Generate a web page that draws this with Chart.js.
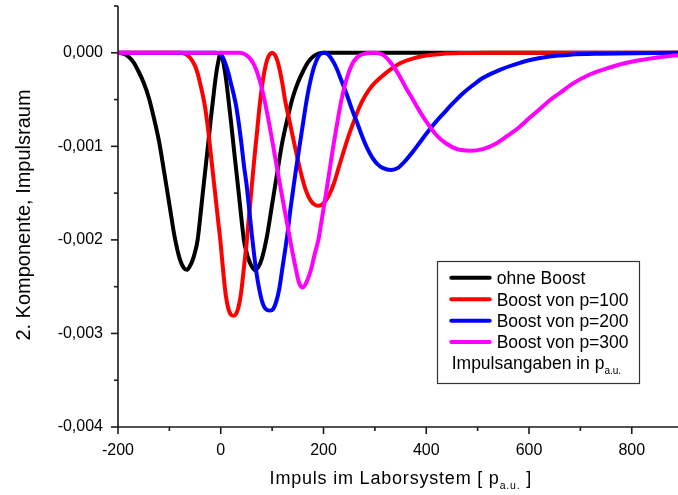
<!DOCTYPE html>
<html>
<head>
<meta charset="utf-8">
<script src="https://cdn.jsdelivr.net/npm/chart.js@4.4.1/dist/chart.umd.min.js"></script>
<style>
  html, body { margin:0; padding:0; background:#fff; }
  canvas { display:block; }
</style>
</head>
<body>
<canvas id="chart" width="678" height="495"></canvas>
<script>
// Impuls (x) und 2. Komponente (y) je Kurve
const xOhne = [-200,-190,-180,-170,-160,-150,-140,-130,-120,-110,-100,-90,-80,-72,-66,-60,-55,-50,-45,-40,-35,-30,-25,-20,-15,-10,-5,0,
               5,10,15,20,25,30,35,40,45,50,55,60,66,72,80,90,100,110,120,130,140,150,160,170,180,190,200,890];
const yOhne = [0,-0.00001,-0.00004,-0.0001,-0.0002,-0.00032,-0.00048,-0.0007,-0.00095,-0.00128,-0.00162,-0.00196,-0.0022,-0.0023,-0.00232,-0.00228,-0.00222,-0.00213,-0.002,-0.00176,-0.0015,-0.00125,-0.001,-0.00074,-0.0005,-0.00027,-0.0001,0,
               -0.0001,-0.00027,-0.0005,-0.00074,-0.001,-0.00125,-0.0015,-0.00176,-0.002,-0.00213,-0.00222,-0.00228,-0.00232,-0.0023,-0.0022,-0.00196,-0.00162,-0.00128,-0.00095,-0.0007,-0.00048,-0.00032,-0.0002,-0.0001,-0.00004,-0.00001,0,0];

const x100 = [-200,-80,-70,-60,-50,-45,-40,-35,-30,-25,-20,-15,-10,-5,0,5,10,15,20,25,30,35,40,45,50,55,60,65,70,75,80,85,90,95,100,
              105,110,115,120,125,135,145,155,165,175,185,191,200,210,220,230,240,250,260,270,280,295,310,330,350,375,400,430,470,520,890];
const y100 = [0,0,-0.00001,-0.00005,-0.00014,-0.00022,-0.00033,-0.00045,-0.0006,-0.0008,-0.00105,-0.0013,-0.00155,-0.0018,-0.00205,-0.00235,-0.0026,-0.00274,-0.0028,-0.00281,-0.00279,-0.00271,-0.00255,-0.0023,-0.00205,-0.00175,-0.00145,-0.00115,-0.00088,-0.0006,-0.00037,-0.0002,-0.00008,-0.00002,0,
              -0.00002,-0.00008,-0.00019,-0.00033,-0.0005,-0.00076,-0.00102,-0.00126,-0.00146,-0.00158,-0.00163,-0.001635,-0.00161,-0.00153,-0.0014,-0.00122,-0.00104,-0.00087,-0.00072,-0.00058,-0.00047,-0.00035,-0.00027,-0.00018,-0.00011,-0.00006,-0.00003,-0.000012,-0.000003,0,0];

const x200 = [-200,-10,0,5,10,15,20,25,30,35,40,45,50,55,60,65,70,75,80,85,90,96,102,108,114,120,125,130,135,140,145,150,155,160,165,170,175,180,185,190,195,201,
              207,215,225,235,245,255,265,275,285,295,305,315,332,345,360,375,390,405,420,435,450,470,490,510,540,570,600,640,680,740,890];
const y200 = [0,0,-0.00002,-0.00006,-0.00013,-0.00022,-0.00033,-0.00044,-0.00057,-0.00075,-0.00096,-0.0012,-0.0014,-0.00165,-0.00192,-0.00216,-0.00237,-0.00253,-0.00265,-0.00272,-0.00275,-0.002756,-0.00274,-0.00266,-0.00252,-0.0023,-0.00212,-0.00193,-0.0017,-0.0015,-0.0013,-0.00112,-0.00094,-0.00076,-0.00058,-0.00042,-0.00029,-0.00018,-0.0001,-0.00004,-0.00001,0,
              -0.00001,-0.00006,-0.00016,-0.0003,-0.00044,-0.0006,-0.00074,-0.00089,-0.00102,-0.00112,-0.00119,-0.00123,-0.001253,-0.00123,-0.00115,-0.00105,-0.00094,-0.00083,-0.00073,-0.00064,-0.00055,-0.00044,-0.00035,-0.00027,-0.00019,-0.00013,-0.00008,-0.00004,-0.00002,-0.00001,0];

const x300 = [-200,35,45,55,65,75,85,95,105,115,125,135,145,152,159.5,167,175,183,190,197,205,212,219,227,235,245,255,265,280,300,
              315,330,345,360,374,390,407,423,439,460,485,510,536,560,582,600,621,640,660,685,715,750,780,815,850,890];
const y300 = [0,0,-0.00001,-0.00005,-0.00013,-0.00028,-0.0005,-0.00078,-0.00109,-0.0014,-0.0017,-0.002,-0.00228,-0.00245,-0.00251,-0.00245,-0.00233,-0.00215,-0.002,-0.00177,-0.0015,-0.00125,-0.001,-0.00074,-0.0005,-0.00028,-0.00013,-0.00005,-0.00001,0,
              -0.00002,-0.0001,-0.00022,-0.00037,-0.0005,-0.00065,-0.00079,-0.0009,-0.00097,-0.00103,-0.001047,-0.00103,-0.00097,-0.00088,-0.00079,-0.0007,-0.0006,-0.00051,-0.00043,-0.00033,-0.00024,-0.00017,-0.00012,-0.00008,-0.00005,-0.000025];

const seriesNames  = ['ohne Boost', 'Boost von p=100', 'Boost von p=200', 'Boost von p=300'];
const seriesColors = ['#000000', '#ff0000', '#0000ff', '#ff00ff'];

// Achsenbereich und Teilstriche (Haupt- und Nebenstriche)
const xMin = -200, xMax = 890, yMin = -0.004, yMax = 0.0005;
const xTicks = [-200,-100,0,100,200,300,400,500,600,700,800];
const yTicks = [-0.004,-0.0035,-0.003,-0.0025,-0.002,-0.0015,-0.001,-0.0005,0,0.0005];

const FONT = '"Liberation Sans", Arial, Helvetica, sans-serif';
const AXIS = '#1a1a1a';

const pts = (xs, ys) => xs.map((x, i) => ({x, y: ys[i]}));
const fmtY = v => { const r = Math.round(v * 1000) / 1000; return (r === 0 ? 0 : r).toFixed(3).replace('.', ','); };
const isMajorY = v => Math.abs(Math.round(v * 2000)) % 2 === 0;
const isMajorX = v => Math.round(v / 100) % 2 === 0;

// Text mit tiefgestelltem Zusatz ("p" + "a.u.")
function drawSub(ctx, parts, x, y, size, subSize){
  let cx = x;
  parts.forEach(([t, sub]) => {
    ctx.font = `${sub ? subSize : size}px ${FONT}`;
    ctx.fillText(t, cx, sub ? y + size * 0.3 : y);
    cx += ctx.measureText(t).width;
  });
}
function measureSub(ctx, parts, size, subSize){
  let w = 0;
  parts.forEach(([t, sub]) => { ctx.font = `${sub ? subSize : size}px ${FONT}`; w += ctx.measureText(t).width; });
  return w;
}

// Achsenlinien, Haupt- und Nebenstriche, Achsentitel
const axesPlugin = {
  id: 'originAxes',
  afterDraw(c){
    const {ctx, chartArea:{left, right, top, bottom}} = c;
    const xs = c.scales.x, ys = c.scales.y;
    ctx.save();
    ctx.strokeStyle = AXIS; ctx.lineWidth = 1.6; ctx.lineCap = 'butt';
    ctx.beginPath();
    ctx.moveTo(left, top); ctx.lineTo(left, bottom); ctx.lineTo(right, bottom);
    ctx.stroke();
    xs.ticks.forEach(t => {
      const px = xs.getPixelForValue(t.value);
      const len = isMajorX(t.value) ? 7 : 4;
      ctx.beginPath(); ctx.moveTo(px, bottom); ctx.lineTo(px, bottom + len); ctx.stroke();
    });
    ys.ticks.forEach(t => {
      const py = ys.getPixelForValue(t.value);
      const len = isMajorY(t.value) ? 7 : 4;
      ctx.beginPath(); ctx.moveTo(left, py); ctx.lineTo(left - len, py); ctx.stroke();
    });

    ctx.fillStyle = '#000';
    ctx.textBaseline = 'alphabetic';
    ctx.textAlign = 'left';
    if ('letterSpacing' in ctx) ctx.letterSpacing = '0.8px';
    const xt = [['Impuls im Laborsystem [ p', false], ['a.u.', true], [' ]', false]];
    const w = measureSub(ctx, xt, 18, 10.5);
    drawSub(ctx, xt, 400.8 - w / 2, 484, 18, 10.5);
    if ('letterSpacing' in ctx) ctx.letterSpacing = '0px';

    ctx.save();
    ctx.translate(29.5, 215);
    ctx.rotate(-Math.PI / 2);
    ctx.font = `20px ${FONT}`;
    ctx.textAlign = 'center';
    ctx.fillText('2. Komponente, Impulsraum', 0, 0);
    ctx.restore();
    ctx.restore();
  }
};

// Legende im Kasten unten rechts
const legendPlugin = {
  id: 'boxLegend',
  afterDraw(c){
    const {ctx} = c;
    ctx.save();
    ctx.fillStyle = '#fff';
    ctx.fillRect(437.5, 261.5, 202, 122);
    ctx.strokeStyle = '#333'; ctx.lineWidth = 1.2;
    ctx.strokeRect(437.5, 261.5, 202, 122);
    const base = [284, 305.5, 327, 348.3];
    c.data.datasets.forEach((ds, i) => {
      const y = base[i];
      ctx.strokeStyle = ds.borderColor; ctx.lineWidth = 4; ctx.lineCap = 'round';
      ctx.beginPath(); ctx.moveTo(451.3, y - 6.3); ctx.lineTo(489.7, y - 6.3); ctx.stroke();
      ctx.fillStyle = '#000';
      ctx.font = `17.5px ${FONT}`;
      ctx.textBaseline = 'alphabetic'; ctx.textAlign = 'left';
      ctx.fillText(ds.label, 496.7, y);
    });
    ctx.fillStyle = '#000';
    drawSub(ctx, [['Impulsangaben in p', false], ['a.u.', true]], 451.7, 368.5, 17.5, 10);
    ctx.restore();
  }
};

const datasets = [pts(xOhne, yOhne), pts(x100, y100), pts(x200, y200), pts(x300, y300)].map((d, i) => ({
  label: seriesNames[i],
  data: d,
  borderColor: seriesColors[i],
  backgroundColor: seriesColors[i],
  borderWidth: 4,
  pointRadius: 0,
  fill: false,
  cubicInterpolationMode: 'monotone',
  borderCapStyle: 'round',
  borderJoinStyle: 'round',
  order: 4 - i
}));

// feste Plotfläche: kein Randzuschlag für Beschriftungen
const noPad = s => { s.paddingLeft = 0; s.paddingRight = 0; s.paddingTop = 0; s.paddingBottom = 0; };

new Chart(document.getElementById('chart'), {
  type: 'line',
  data: { datasets },
  options: {
    responsive: false,
    animation: false,
    events: [],
    layout: { padding: { top: 6, right: 0, bottom: 0, left: 0 } },
    plugins: { legend: { display: false }, tooltip: { enabled: false } },
    scales: {
      x: {
        type: 'linear', min: xMin, max: xMax,
        grid: { display: false, drawTicks: false, tickLength: 0 },
        border: { display: false },
        afterBuildTicks: s => { s.ticks = xTicks.map(value => ({value})); },
        ticks: {
          autoSkip: false, maxRotation: 0, padding: 14,
          color: '#000', font: { family: FONT, size: 16 },
          callback: v => isMajorX(v) ? String(v) : ''
        },
        afterFit: s => { s.height = 68; noPad(s); }
      },
      y: {
        type: 'linear', min: yMin, max: yMax,
        grid: { display: false, drawTicks: false, tickLength: 0 },
        border: { display: false },
        afterBuildTicks: s => { s.ticks = yTicks.map(value => ({value})); },
        ticks: {
          autoSkip: false, padding: 15,
          color: '#000', font: { family: FONT, size: 16 },
          callback: v => isMajorY(v) ? fmtY(v) : ''
        },
        afterFit: s => { s.width = 118; noPad(s); }
      }
    }
  },
  plugins: [axesPlugin, legendPlugin]
});
</script>
</body>
</html>
